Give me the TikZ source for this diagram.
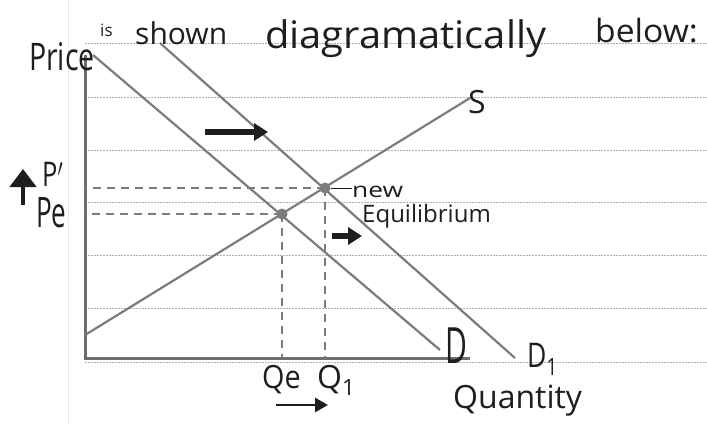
\documentclass[tikz,border=0pt]{standalone}
\usepackage{fontspec}
\setmainfont{Open Sans}
\usetikzlibrary{arrows.meta}
\definecolor{curvegray}{HTML}{7C7C7C}
\definecolor{axisgray}{HTML}{6E6E6E}
\definecolor{rulegray}{HTML}{B0B0B0}
\definecolor{margingray}{HTML}{E8E8E8}
\definecolor{ink}{HTML}{1E1E1E}
\newcommand{\fsz}[1]{\fontsize{#1}{#1}\selectfont}
\begin{document}
\begin{tikzpicture}[x=1pt,y=-1pt,
  ruleline/.style={rulegray, line width=1pt, dash pattern=on 2pt off 1pt},
  curveline/.style={curvegray, line width=2.2pt},
  axisline/.style={axisgray, line width=3pt},
  guide/.style={curvegray, line width=1.3pt, dash pattern=on 8pt off 6pt},
  eqdot/.style={circle, fill=curvegray, inner sep=0pt, minimum size=11pt},
  shiftarrow/.style={-{Triangle[length=14pt,width=17pt]}, ink, line width=5.5pt},
  hand/.style={ink, inner sep=0pt, anchor=base west}
]
\useasboundingbox (0,0) rectangle (707,424);
\fill[white] (0,0) rectangle (707,424);
% margin line
\draw[margingray, line width=1pt] (68,0) -- (68,424);
% ruled lines
\foreach \yy in {43,97,150,202,255,308,362}
  \draw[ruleline] (85,\yy) -- (707,\yy);
% axes
\coordinate (top) at (85,55);
\coordinate (o) at (85,358);
\coordinate (xend) at (470,358);
\draw[axisline] (top) -- (o) -- (xend);
% curves
\coordinate (d0) at (93,55);
\coordinate (d1) at (440,350);
\coordinate (dd0) at (160,43);
\coordinate (dd1) at (515,358);
\coordinate (s0) at (85,335);
\coordinate (s1) at (470,98);
\draw[curveline] (d0) -- (d1);
\draw[curveline] (dd0) -- (dd1);
\draw[curveline] (s0) -- (s1);
% equilibria
\node[eqdot] (e0) at (282,214) {};
\node[eqdot] (e1) at (325,188) {};
\draw[guide] (e1.center) -- (e1 -| o);
\draw[guide] (e0.center) -- (e0 -| o);
\draw[guide] (e1.center) -- (e1 |- o);
\draw[guide] (e0.center) -- (e0 |- o);
% shift arrows
\coordinate (a0) at (205,132);
\coordinate (a1) at (268,132);
\draw[shiftarrow] (a0) -- (a1);
\coordinate (b0) at (332,236);
\coordinate (b1) at (362,236);
\draw[shiftarrow] (b0) -- (b1);
\coordinate (c0) at (276,405);
\coordinate (c1) at (328,405);
\draw[-{Triangle[length=13pt,width=14pt]}, ink, line width=2.8pt] (c0) -- (c1);
\coordinate (u0) at (23,205);
\coordinate (u1) at (23,169);
\draw[-{Triangle[length=18pt,width=26pt]}, ink, line width=4.5pt] (u0) -- (u1);
% labels
\node[hand, font=\fsz{38}] (price) at (29,70) {\scalebox{0.75}[1]{Price}};
\node[hand, font=\fsz{17}] (is) at (100,36) {is};
\node[hand, font=\fsz{30}] (shown) at (135,44) {shown};
\node[hand, font=\fsz{38}] (diag) at (265,48) {\scalebox{1.05}[1]{diagramatically}};
\node[hand, font=\fsz{32}] (below) at (595,42) {\scalebox{1.05}[1]{below:}};
\node[hand, font=\fsz{32}] (S) at (468,113) {S};
\node[hand, font=\fsz{34}] (Pp) at (42,186) {\scalebox{0.75}[1]{P$'$}};
\node[hand, font=\fsz{42}] (Pe) at (36,227) {\scalebox{0.62}[1]{Pe}};
\node[hand, font=\fsz{22}] (new) at (352,197) {\scalebox{1.2}[0.95]{new}};
\draw[ink, line width=1pt] (e1.east) -- (new.west |- e1);
\node[hand, font=\fsz{24}] (eq) at (362,222) {Equilibrium};
\node[hand, font=\fsz{32}] (Qe) at (262,388) {\scalebox{0.9}[1]{Qe}};
\node[hand, font=\fsz{32}] (Q1) at (317,388) {Q\textsubscript{1}};
\node[hand, font=\fsz{50}] (D) at (445,363) {\scalebox{0.6}[1]{D}};
\node[hand, font=\fsz{34}] (D1) at (527,367) {\scalebox{0.78}[1]{D\textsubscript{1}}};
\node[hand, font=\fsz{32}] (qty) at (453,408) {Quantity};
\end{tikzpicture}
\end{document}
